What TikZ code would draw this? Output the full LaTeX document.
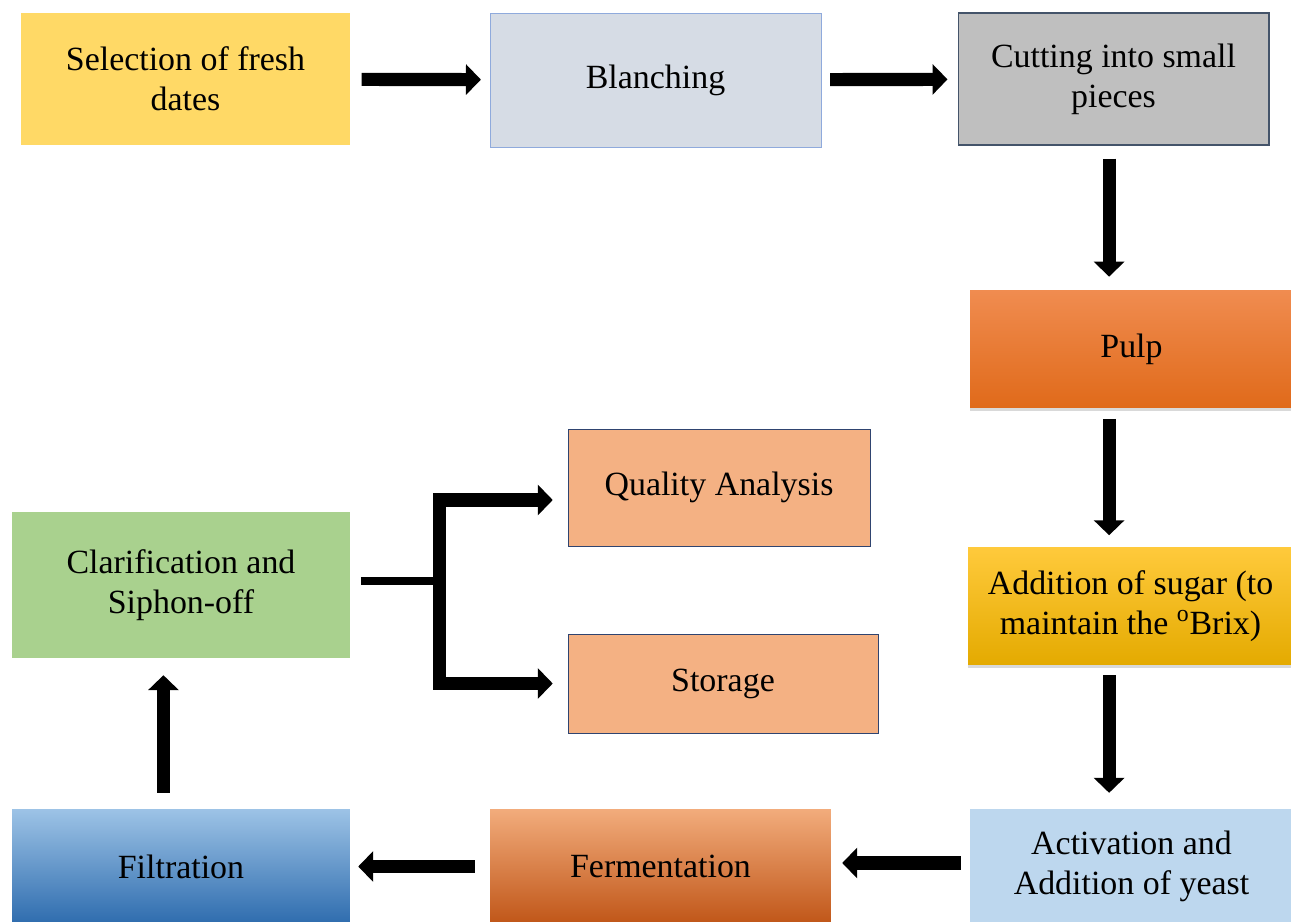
\documentclass[tikz,border=0pt]{standalone}
\usepackage{fontspec}
\setmainfont{Liberation Serif}
\usepackage{xcolor}
\usepackage{tikz}
\usetikzlibrary{calc,arrows.meta,positioning,shadows}
\definecolor{selY}{HTML}{FFD966}
\definecolor{blanG}{HTML}{D6DCE5}
\definecolor{blanB}{HTML}{8FAADC}
\definecolor{cutG}{HTML}{BFBFBF}
\definecolor{cutB}{HTML}{44546A}
\definecolor{actB}{HTML}{BDD7EE}
\definecolor{clarG}{HTML}{A9D18E}
\definecolor{qualO}{HTML}{F4B183}
\definecolor{qualB}{HTML}{2F4470}
\tikzset{
  box/.style={rectangle, align=center, inner sep=0pt, text=black,
    font=\fontsize{19.3}{22.7}\selectfont},
  flow/.style={line width=7.5pt, -{Triangle[length=8.5pt,width=17pt]}},
  stub/.style={line width=5pt},
  soft/.style={drop shadow={shadow xshift=0pt, shadow yshift=-1.5pt, opacity=0.3}}
}
\begin{document}
\begin{tikzpicture}[x=0.02cm, y=-0.02cm]
        \useasboundingbox (0,0) rectangle (1291,922);
        % Top row
        \node[box, fill=selY, minimum width=6.6cm, minimum height=2.64cm] (sel) at (185.5,79) {Selection of fresh\\dates};
        \node[box, fill=blanG, draw=blanB, thin, minimum width=6.62cm, minimum height=2.68cm] (blan) at (655.5,80) {Blanching};
        \node[box, fill=cutG, draw=cutB, semithick, minimum width=6.22cm, minimum height=2.64cm] (cut) at (1113.5,79) {Cutting into small\\pieces};
        % Right column
        \node[box, soft, top color={rgb,255:red,240;green,140;blue,80}, middle color={rgb,255:red,238;green,122;blue,40}, bottom color={rgb,255:red,224;green,106;blue,26}, minimum width=6.46cm, minimum height=2.36cm] (pulp) at (1131.5,349) {Pulp};
        \node[box, soft, top color={rgb,255:red,255;green,202;blue,60}, middle color={rgb,255:red,255;green,192;blue,0}, bottom color={rgb,255:red,228;green,170;blue,0}, minimum width=6.5cm, minimum height=2.36cm] (sugar) at (1130.5,606) {Addition of sugar (to\\maintain the \textsuperscript{o}Brix)};
        \node[box, fill=actB, minimum width=6.46cm, minimum height=2.3cm] (act) at (1131.5,866.5) {Activation and\\Addition of yeast};
        % Bottom row
        \node[box, top color={rgb,255:red,242;green,172;blue,124}, middle color={rgb,255:red,236;green,124;blue,48}, bottom color={rgb,255:red,192;green,86;blue,24}, minimum width=6.82cm, minimum height=2.3cm] (ferm) at (660.5,866.5) {Fermentation};
        \node[box, top color={rgb,255:red,157;green,195;blue,230}, middle color={rgb,255:red,94;green,152;blue,212}, bottom color={rgb,255:red,46;green,108;blue,174}, minimum width=6.76cm, minimum height=2.3cm] (filt) at (181,866.5) {Filtration};
        % Left column and outputs
        \node[box, fill=clarG, minimum width=6.76cm, minimum height=2.92cm] (clar) at (181,585) {Clarification and\\Siphon-off};
        \node[box, fill=qualO, draw=qualB, thin, minimum width=6.04cm, minimum height=2.34cm] (qual) at (719,487.5) {Quality Analysis};
        \node[box, fill=qualO, draw=qualB, thin, minimum width=6.2cm, minimum height=1.98cm] (stor) at (723,683.5) {Storage};
        % Main flow
        \draw[flow, shorten <=6.2pt, shorten >=5pt] (sel) -- (blan);
        \draw[flow, shorten <=5pt, shorten >=5.7pt] (blan) -- (cut);
        \draw[flow, shorten <=7.4pt, shorten >=7.4pt] ([xshift=-2.5pt]cut.south) -- ([xshift=-2.5pt]cut.south |- pulp.north);
        \draw[flow, shorten <=6pt, shorten >=6.5pt] ([xshift=-2.5pt]cut.south |- pulp.south) -- ([xshift=-2.5pt]cut.south |- sugar.north);
        \draw[flow, shorten <=5.7pt, shorten >=9pt] ([xshift=-2.5pt]cut.south |- sugar.south) -- ([xshift=-2.5pt]cut.south |- act.north);
        \draw[flow, shorten <=5pt, shorten >=6.2pt] ([yshift=2pt]act.west) -- ([yshift=2pt]ferm.east);
        \draw[flow, shorten <=8.5pt, shorten >=4.5pt] (ferm) -- (filt);
        \draw[flow, shorten <=9pt, shorten >=9.6pt] ([xshift=-10pt]filt.north) -- ([xshift=-10pt]clar.south);
        % Branch to quality analysis and storage
        \coordinate (J) at (439.5,581);
        \draw[stub, shorten <=6pt] (clar.east |- J) -- (J);
        \draw[flow, shorten >=8.5pt] (J) |- ($(qual.west)+(0,12.5)$);
        \draw[flow, shorten >=8.5pt] (J) |- (stor.west);
\end{tikzpicture}
\end{document}
